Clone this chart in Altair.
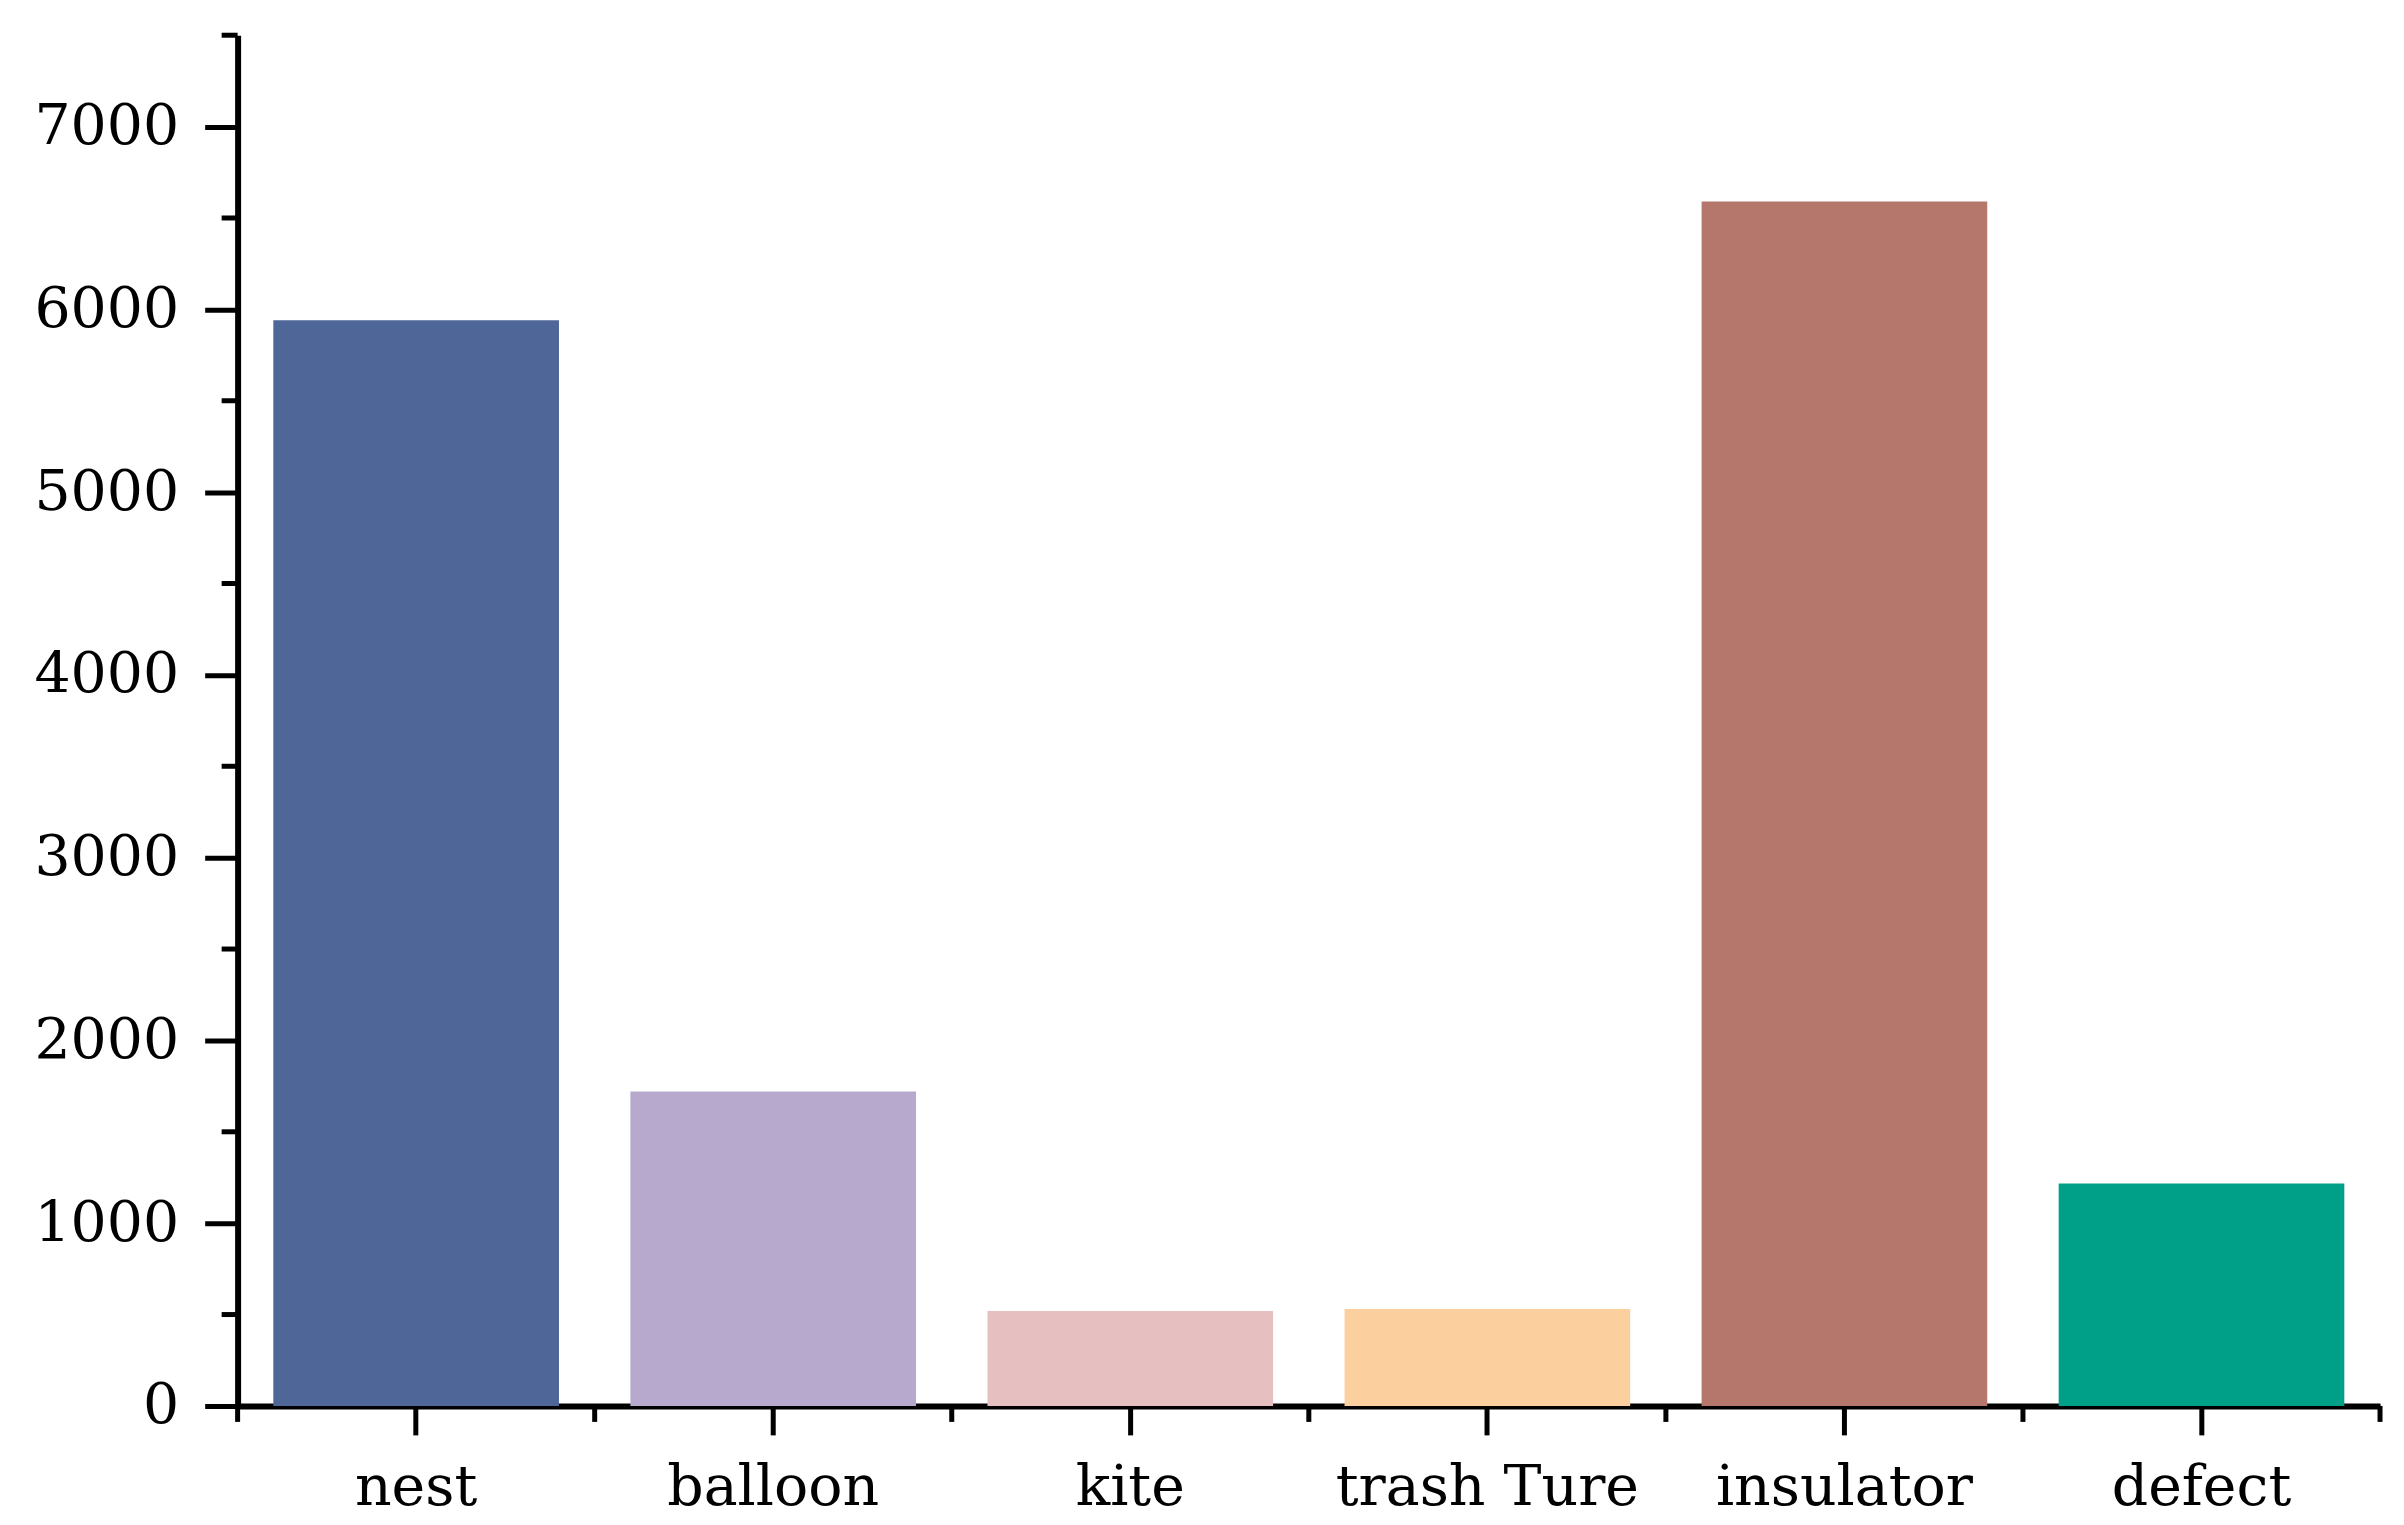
import altair as alt
import pandas as pd

categories = ["nest", "balloon", "kite", "trash Ture", "insulator", "defect"]
counts = [5940, 1720, 520, 530, 6590, 1217]
colors = ["#4E6698", "#B7A8CE", "#E6C0C0", "#FCCF9E", "#B5766B", "#009F87"]
y_major = [0, 1000, 2000, 3000, 4000, 5000, 6000, 7000]
y_minor = [500, 1500, 2500, 3500, 4500, 5500, 6500, 7500]
x_minor = [0, 1, 2, 3, 4, 5, 6]

W, H = 2146, 1373
FONT = "DejaVu Serif"
FS = 57

bars_df = pd.DataFrame({"cat": categories, "count": counts})
ymin_df = pd.DataFrame({"count": y_minor})
xmin_df = pd.DataFrame({"b": x_minor})

yscale = alt.Scale(domain=[0, 7500], nice=False, zero=True)
yaxis = alt.Axis(title=None, values=y_major, format="d", labelFont=FONT,
                 labelFontSize=FS, labelColor="black", labelPadding=26,
                 tickSize=33, tickWidth=5, tickColor="black", domainWidth=6,
                 domainColor="black", grid=False, labelFlush=False,
                 labelOverlap=False)

bars = alt.Chart(bars_df).mark_bar().encode(
    x=alt.X("cat:N", sort=categories,
            scale=alt.Scale(paddingInner=0.2, paddingOuter=0.1),
            axis=alt.Axis(title=None, labelAngle=0, labelFont=FONT, labelFontSize=FS,
                          labelColor="black", labelOverlap=False, labelLimit=1000,
                          labelBaseline="alphabetic", labelPadding=70,
                          tickSize=29, tickWidth=5, tickColor="black",
                          domainWidth=6, domainColor="black", labelFlush=False)),
    y=alt.Y("count:Q", scale=yscale, axis=yaxis),
    color=alt.Color("cat:N", scale=alt.Scale(domain=categories, range=colors), legend=None),
)

ymin = alt.Chart(ymin_df).mark_rule(color="black", strokeWidth=5).encode(
    y=alt.Y("count:Q", scale=yscale, axis=yaxis),
    x=alt.value(0),
    x2=alt.value(-16),
)

xmin = alt.Chart(xmin_df).mark_rule(color="black", strokeWidth=5).encode(
    x=alt.X("b:Q", scale=alt.Scale(domain=[0, 6], nice=False, zero=False), axis=None),
    y=alt.value(H),
    y2=alt.value(H + 16),
)

chart = alt.layer(bars, ymin, xmin).resolve_scale(x="independent").properties(
    width=W, height=H,
    autosize=alt.AutoSizeParams(type="none"),
    padding={"left": 230, "top": 26, "right": 16, "bottom": 116},
    background="white",
).configure_view(stroke=None)

chart.save("out.html", embed_options={"renderer": "svg", "actions": False})
